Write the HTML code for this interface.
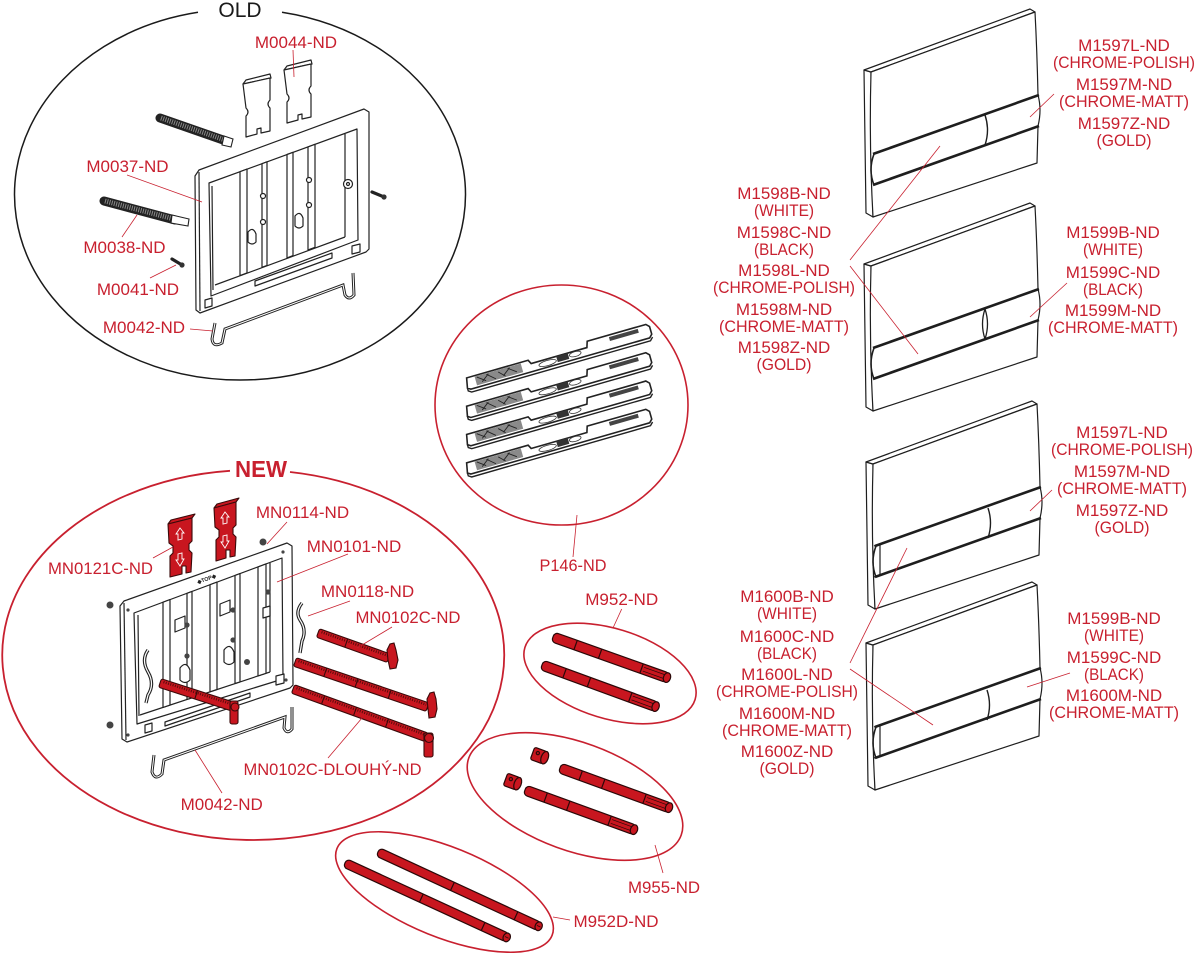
<!DOCTYPE html>
<html><head><meta charset="utf-8">
<style>
html,body{margin:0;padding:0;background:#fff;}
svg{display:block;}
text{font-family:"Liberation Sans",Arial,sans-serif;}
</style></head><body>
<svg width="1196" height="953" viewBox="0 0 1196 953" xmlns="http://www.w3.org/2000/svg">
<defs>
  <g id="pb" fill="#fff" stroke="#1e1e1e" stroke-width="1.2" stroke-linejoin="round">
    <path d="M864,70 L871,72 L873,217 L866,213 Z"/>
    <path d="M864,70 L1030,9 L1035,12 L871,72 Z"/>
    <path d="M871,72 L1035,12 Q1037,50 1038,95 Q1042,110 1038,126 L1037,163 L873,217 Q869,145 871,72 Z"/>
    <path d="M873,154 L1039,95 M873,185 L1039,126" stroke-width="2.6" fill="none"/>
    <path d="M874,154 Q868,170 874,185" fill="none" stroke-width="1.6"/>
  </g>
  <g id="card">
    <path d="M0,-2 L0,1 L3,3 L189,3 L192,0" fill="none" stroke="#222" stroke-width="1.4"/>
    <path d="M0,-2 L2,-12 L66,-12 L68,-8 L126,-8 L128,-14 L189,-14 L192,-11 L192,-3 L189,0 L3,0 Z" fill="#fff" stroke="#222" stroke-width="1.6"/>
    <rect x="10" y="-11" width="48" height="9" fill="#8a8a8a"/>
    <path d="M12,-10 L20,-4 M22,-10 L30,-3 M34,-9 L40,-3 M44,-10 L52,-4 M16,-4 L24,-10 M38,-4 L46,-10" stroke="#222" stroke-width="0.9"/>
    <ellipse cx="84" cy="-4" rx="9" ry="2.6" fill="#fff" stroke="#333" stroke-width="0.8"/>
    <rect x="94" y="-8" width="12" height="6" fill="#333"/>
    <ellipse cx="113" cy="-5" rx="6" ry="2.4" fill="#fff" stroke="#333" stroke-width="0.8"/>
    <rect x="150" y="-12" width="30" height="4" fill="#444"/>
  </g>
</defs>

<!-- ========== OLD ========== -->
<path d="M198,12.3 A225.5,185.5 0 1 0 282,12.3" fill="none" stroke="#1a1a1a" stroke-width="1.5"/>
<text x="240" y="17" font-size="21" text-anchor="middle" fill="#1a1a1a">OLD</text>

<g fill="#fff" stroke="#222" stroke-width="1.2" stroke-linejoin="round">
  <path d="M195,176 L199,170 L364,109 L369,112 L369,249 L366,252 L200,313 L196,310 Z"/>
  <path d="M199,172 L200,311" fill="none"/>
  <path d="M209,183 L357,129 L358,240 L211,296 Z"/>
  <path d="M215,285 L345,237 M345,134 L345,237 M213,290 L212,186" fill="none"/>
  <path d="M240,171.7 L247,169.1 L247,272.9 L240,275.6 Z"/>
  <path d="M262,163.7 L267,161.8 L267,265.4 L262,267.3 Z"/>
  <path d="M287,154.5 L293,152.3 L293,255.6 L287,257.9 Z"/>
  <path d="M308,146.9 L315,144.3 L315,247.3 L308,249.9 Z"/>
  <path d="M255,281 L332,253 L332,258 L255,286 Z"/>
  <circle cx="263" cy="196" r="2.5"/><circle cx="263" cy="222" r="2.5"/>
  <circle cx="309" cy="180" r="2.5"/><circle cx="309" cy="205" r="2.5"/>
  <path d="M248,232 q5,-6 8,2 l0,8 q-4,4 -8,0 Z"/><path d="M295,216 q5,-6 8,2 l0,8 q-4,4 -8,0 Z"/>
  <circle cx="348" cy="184" r="4.5"/><circle cx="348" cy="184" r="1.5"/>
  <path d="M205,300 L212,298 L212,306 L205,308 Z"/><path d="M352,246 L360,244 L360,252 L352,254 Z"/>
  <!-- sliders -->
  <path d="M243,84 L246,80 L270,74 L271,78 L266,79 Z"/>
  <path d="M243,84 L270,78 L270,100 Q266,104 270,108 L270,131 L261,133 L261,128 L257,129 L257,134 L246,137 L246,116 Q250,112 246,108 Z"/>
  <path d="M284,70 L287,66 L311,60 L312,64 L307,65 Z"/>
  <path d="M284,70 L311,64 L311,86 Q307,90 311,94 L311,117 L302,119 L302,114 L298,115 L298,120 L287,123 L287,102 Q291,98 287,94 Z"/>
</g>
<!-- threaded rods -->
<line x1="160" y1="118" x2="226" y2="141" stroke="#222" stroke-width="9" stroke-linecap="round"/>
<line x1="161" y1="118" x2="225" y2="140" stroke="#8a8a8a" stroke-width="5" stroke-dasharray="1 1.3"/>
<path d="M224,136 L233,139 L231,147 L222,145 Z" fill="#fff" stroke="#222" stroke-width="1.1"/>
<line x1="104" y1="201" x2="175" y2="220" stroke="#222" stroke-width="9" stroke-linecap="round"/>
<line x1="105" y1="201" x2="174" y2="219" stroke="#8a8a8a" stroke-width="5" stroke-dasharray="1 1.3"/>
<path d="M172,215 L189,219 L188,226 L171,223 Z" fill="#fff" stroke="#222" stroke-width="1.1"/>
<!-- screws -->
<line x1="372" y1="192" x2="384" y2="197" stroke="#222" stroke-width="3.2" stroke-linecap="round"/>
<circle cx="384" cy="197" r="2.6" fill="#333"/>
<line x1="172" y1="259" x2="182" y2="265" stroke="#222" stroke-width="3.2" stroke-linecap="round"/>
<circle cx="182" cy="265" r="2.6" fill="#333"/>
<!-- wire old -->
<path d="M215,323 L212,339 Q213,348 222,343 L225,329 L343,285 L345,295 Q349,301 354,295 L353,273" fill="none" stroke="#222" stroke-width="3"/>
<path d="M215,323 L212,339 Q213,348 222,343 L225,329 L343,285 L345,295 Q349,301 354,295 L353,273" fill="none" stroke="#fff" stroke-width="1"/>

<!-- ========== NEW ========== -->
<path d="M230,470.8 A251,185 0 1 0 290,472" fill="none" stroke="#c8202f" stroke-width="1.8"/>
<text x="261" y="477" font-size="23" font-weight="bold" text-anchor="middle" fill="#c8202f" textLength="52" lengthAdjust="spacingAndGlyphs">NEW</text>

<g fill="#fff" stroke="#222" stroke-width="1.2" stroke-linejoin="round">
  <path d="M120,606 L124,601 L287,543 L292,546 L293,685 L290,688 L127,742 L122,739 Z"/>
  <path d="M124,603 L126,740" fill="none"/>
  <path d="M134,613 L282,558 L283,679 L137,724 Z"/>
  <path d="M140,715 L270,672 M270,563 L270,672 M139,716 L138,615" fill="none"/>
  <path d="M163,602.2 L170,599.6 L170,705.1 L163,707.4 Z"/>
  <path d="M187,593.3 L192,591.4 L192,697.8 L187,699.4 Z"/>
  <path d="M210,584.7 L217,582.1 L217,689.5 L210,691.8 Z"/>
  <path d="M235,575.4 L240,573.6 L240,681.9 L235,683.5 Z"/>
  <path d="M258,566.9 L266,563.9 L266,673.3 L258,675.9 Z"/>
  <path d="M175,620 L185,616 L185,628 L175,632 Z"/><path d="M220,604 L230,600 L230,612 L220,616 Z"/>
  <path d="M180,668 q6,-8 10,2 l0,10 q-5,5 -10,0 Z"/><path d="M224,650 q6,-8 10,2 l0,10 q-5,5 -10,0 Z"/>
  <path d="M263,608 L270,606 L270,616 L263,618 Z"/>
  <path d="M145,725 L152,723 L152,731 L145,733 Z"/><path d="M276,676 L284,674 L284,683 L276,685 Z"/>
  <path d="M165,722 L250,693 L250,697 L165,726 Z"/>
</g>
<g fill="#444">
  <circle cx="187" cy="625" r="2.6"/><circle cx="187" cy="656" r="2.6"/>
  <circle cx="233" cy="610" r="2.6"/><circle cx="233" cy="640" r="2.6"/>
  <circle cx="268" cy="592" r="2.6"/><circle cx="247" cy="662" r="3"/>
  <circle cx="110" cy="605" r="3.5"/><circle cx="110" cy="725" r="3.5"/>
  <circle cx="263" cy="542" r="3.5"/><circle cx="128" cy="610" r="1.6"/><circle cx="283" cy="552" r="1.6"/>
  <circle cx="128" cy="735" r="1.6"/><circle cx="286" cy="680" r="1.6"/>
</g>
<text x="0" y="0" font-size="5.5" font-weight="bold" fill="#222" transform="translate(198,584) rotate(-20)">◆TOP◆</text>
<!-- S wires -->
<path d="M302,603 Q295,612 300,620 Q307,630 302,641 L300,653" fill="none" stroke="#222" stroke-width="3.4"/>
<path d="M302,603 Q295,612 300,620 Q307,630 302,641 L300,653" fill="none" stroke="#fff" stroke-width="1.2"/>
<path d="M148,650 Q141,660 148,672 Q155,684 148,695 L146,703" fill="none" stroke="#222" stroke-width="3.4"/>
<path d="M148,650 Q141,660 148,672 Q155,684 148,695 L146,703" fill="none" stroke="#fff" stroke-width="1.2"/>
<!-- new wire M0042 -->
<path d="M154,755 L152,772 Q155,781 162,774 L164,760 L285,717 L284,728 Q287,735 292,729 L292,707" fill="none" stroke="#222" stroke-width="3"/>
<path d="M154,755 L152,772 Q155,781 162,774 L164,760 L285,717 L284,728 Q287,735 292,729 L292,707" fill="none" stroke="#fff" stroke-width="1"/>

<!-- red sliders -->
<g fill="#c8161f" stroke="#3a0a0a" stroke-width="1.1" stroke-linejoin="round">
  <path d="M168,524 L171,520 L195,514 L192,518 Z"/>
  <path d="M168,524 L192,518 L192,541 L189,544 L189,550 L192,553 L191,572 L186,573 L186,566 L182,566 L182,574 L170,577 L170,556 L173,553 L173,546 L169,543 Z"/>
  <path d="M214,508 L217,504 L239,498 L236,502 Z"/>
  <path d="M214,508 L236,502 L236,525 L233,528 L233,534 L236,537 L235,556 L230,557 L230,550 L226,550 L226,558 L216,561 L216,540 L219,537 L219,530 L215,527 Z"/>
</g>
<g fill="none" stroke="#fff" stroke-width="0.9">
  <path d="M180,528 L176,534 L178,534 L178,540 L182,539 L182,533 L184,533 Z"/>
  <path d="M180,566 L176,560 L178,560 L178,554 L182,553 L182,559 L184,559 Z"/>
  <path d="M225,512 L221,518 L223,518 L223,524 L227,523 L227,517 L229,517 Z"/>
  <path d="M225,548 L221,542 L223,542 L223,536 L227,535 L227,541 L229,541 Z"/>
</g>

<!-- red toothed rods -->
<g fill="#c8161f" stroke="#3a0a0a" stroke-width="1.1">
  <g transform="translate(160,683) rotate(18)">
    <rect x="0" y="-4.5" width="78" height="9" rx="2"/>
    <line x1="3" y1="-2" x2="76" y2="-2" stroke="#5a0c0c" stroke-width="2.5" stroke-dasharray="1 1.4"/>
    <line x1="38" y1="-4.5" x2="38" y2="4.5"/>
  </g>
  <rect x="230" y="701" width="8" height="23" rx="2"/>
  <circle cx="235" cy="707" r="4"/>
  <g transform="translate(318,633) rotate(19.6)">
    <rect x="0" y="-4.5" width="75" height="9" rx="2"/>
    <line x1="3" y1="-2" x2="73" y2="-2" stroke="#5a0c0c" stroke-width="2.5" stroke-dasharray="1 1.4"/>
    <line x1="30" y1="-4.5" x2="30" y2="4.5"/>
  </g>
  <path d="M387,650 L390,644 L394,643 L396,650 L398,660 L396,668 L390,669 L388,660 Z"/>
  <g transform="translate(295,662) rotate(18.8)">
    <rect x="0" y="-4.5" width="140" height="9" rx="2"/>
    <line x1="3" y1="-2" x2="138" y2="-2" stroke="#5a0c0c" stroke-width="2.5" stroke-dasharray="1 1.4"/>
    <line x1="32" y1="-4.5" x2="32" y2="4.5"/><line x1="65" y1="-4.5" x2="65" y2="4.5"/><line x1="100" y1="-4.5" x2="100" y2="4.5"/>
  </g>
  <path d="M427,699 L430,693 L434,692 L436,699 L437,709 L435,717 L429,718 L428,709 Z"/>
  <g transform="translate(293,689) rotate(19.9)">
    <rect x="0" y="-4.5" width="142" height="9" rx="2"/>
    <line x1="3" y1="-2" x2="140" y2="-2" stroke="#5a0c0c" stroke-width="2.5" stroke-dasharray="1 1.4"/>
    <line x1="32" y1="-4.5" x2="32" y2="4.5"/><line x1="66" y1="-4.5" x2="66" y2="4.5"/><line x1="100" y1="-4.5" x2="100" y2="4.5"/>
  </g>
  <rect x="424" y="733" width="9" height="24" rx="2"/>
  <circle cx="429" cy="738" r="4.5"/>
</g>

<!-- ========== P146 ========== -->
<ellipse cx="561.5" cy="405" rx="126.5" ry="120" fill="none" stroke="#c8202f" stroke-width="1.6"/>
<use href="#card" transform="translate(468,390) rotate(-16)"/>
<use href="#card" transform="translate(468,418.3) rotate(-16)"/>
<use href="#card" transform="translate(468,446.6) rotate(-16)"/>
<use href="#card" transform="translate(468,474.9) rotate(-16)"/>

<!-- ========== M952 / M955 / M952D ========== -->
<ellipse cx="610" cy="673.5" rx="89" ry="45" transform="rotate(17 610 673.5)" fill="none" stroke="#c8202f" stroke-width="1.6"/>
<ellipse cx="575" cy="796.5" rx="113" ry="54" transform="rotate(20 575 796.5)" fill="none" stroke="#c8202f" stroke-width="1.6"/>
<ellipse cx="444.5" cy="892" rx="116" ry="45" transform="rotate(22 444.5 892)" fill="none" stroke="#c8202f" stroke-width="1.6"/>

<g fill="#c8161f" stroke="#2a0808" stroke-width="1.2">
  <g transform="translate(553,637) rotate(19.6)">
    <rect x="0" y="-5" width="122" height="10" rx="4"/>
    <line x1="24" y1="-5" x2="24" y2="5"/><line x1="50" y1="-5" x2="50" y2="5"/><line x1="94" y1="-5" x2="94" y2="5"/>
    <line x1="96" y1="-2" x2="120" y2="-2" stroke-width="0.7"/><line x1="96" y1="2" x2="120" y2="2" stroke-width="0.7"/>
    <ellipse cx="121" cy="0" rx="3.5" ry="5"/>
  </g>
  <g transform="translate(542,665) rotate(20.1)">
    <rect x="0" y="-5" width="122" height="10" rx="4"/>
    <line x1="24" y1="-5" x2="24" y2="5"/><line x1="50" y1="-5" x2="50" y2="5"/><line x1="94" y1="-5" x2="94" y2="5"/>
    <line x1="96" y1="-2" x2="120" y2="-2" stroke-width="0.7"/><line x1="96" y1="2" x2="120" y2="2" stroke-width="0.7"/>
    <ellipse cx="121" cy="0" rx="3.5" ry="5"/>
  </g>
  <g transform="translate(560,768) rotate(20)">
    <rect x="0" y="-5" width="117" height="10" rx="4"/>
    <line x1="22" y1="-5" x2="22" y2="5"/><line x1="46" y1="-5" x2="46" y2="5"/><line x1="90" y1="-5" x2="90" y2="5"/>
    <line x1="92" y1="-2" x2="115" y2="-2" stroke-width="0.7"/><line x1="92" y1="2" x2="115" y2="2" stroke-width="0.7"/>
    <ellipse cx="116" cy="0" rx="3.5" ry="5"/>
  </g>
  <g transform="translate(525,790) rotate(20)">
    <rect x="0" y="-5" width="117" height="10" rx="4"/>
    <line x1="22" y1="-5" x2="22" y2="5"/><line x1="46" y1="-5" x2="46" y2="5"/><line x1="90" y1="-5" x2="90" y2="5"/>
    <line x1="92" y1="-2" x2="115" y2="-2" stroke-width="0.7"/><line x1="92" y1="2" x2="115" y2="2" stroke-width="0.7"/>
    <ellipse cx="116" cy="0" rx="3.5" ry="5"/>
  </g>
  <g transform="translate(540,756) rotate(20)">
    <rect x="-8" y="-6.5" width="13" height="13" rx="2"/>
    <ellipse cx="5" cy="0" rx="3.5" ry="6.5"/>
    <circle cx="-3" cy="-2" r="1.6"/>
  </g>
  <g transform="translate(513,782) rotate(20)">
    <rect x="-8" y="-6.5" width="13" height="13" rx="2"/>
    <ellipse cx="5" cy="0" rx="3.5" ry="6.5"/>
    <circle cx="-3" cy="-2" r="1.6"/>
  </g>
  <g transform="translate(378,852) rotate(24.8)">
    <rect x="0" y="-4.5" width="178" height="9" rx="4"/>
    <line x1="82" y1="-4.5" x2="82" y2="4.5"/><line x1="152" y1="-4.5" x2="152" y2="4.5"/>
    <ellipse cx="177" cy="0" rx="3.5" ry="4.5"/><line x1="175" y1="0" x2="179" y2="0" stroke-width="0.8"/>
  </g>
  <g transform="translate(345,863) rotate(24.7)">
    <rect x="0" y="-4.5" width="179" height="9" rx="4"/>
    <line x1="84" y1="-4.5" x2="84" y2="4.5"/><line x1="152" y1="-4.5" x2="152" y2="4.5"/>
    <ellipse cx="178" cy="0" rx="3.5" ry="4.5"/><line x1="176" y1="0" x2="180" y2="0" stroke-width="0.8"/>
  </g>
</g>

<!-- ========== PLATES ========== -->
<use href="#pb"/>
<path d="M985,115 Q990,130 985,145" fill="none" stroke="#1e1e1e" stroke-width="1.4"/>
<g transform="translate(0,194)">
  <use href="#pb"/>
  <path d="M985,115 Q990,130 985,145 Q980,130 985,115" fill="none" stroke="#1e1e1e" stroke-width="1.3"/>
</g>
<g transform="translate(2,392)">
  <use href="#pb"/>
  <path d="M986,116 Q991,131 986,146" fill="none" stroke="#1e1e1e" stroke-width="1.4"/>
  <path d="M872,154 L878,152 L878,183 L872,185" fill="none" stroke="#1e1e1e" stroke-width="1.2"/>
</g>
<g transform="translate(2,573)">
  <use href="#pb"/>
  <path d="M985,117 Q990,132 985,147" fill="none" stroke="#1e1e1e" stroke-width="1.4"/>
  <path d="M872,154 L878,152 L878,183 L872,185" fill="none" stroke="#1e1e1e" stroke-width="1.2"/>
</g>

<!-- ========== LEADER LINES ========== -->
<g stroke="#c8202f" stroke-width="0.8" fill="none">
  <line x1="293" y1="50" x2="294" y2="77"/>
  <line x1="127" y1="175" x2="202" y2="202"/>
  <line x1="122" y1="237" x2="137" y2="215"/>
  <line x1="150" y1="278" x2="176" y2="265"/>
  <line x1="190" y1="329" x2="213" y2="331"/>
  <line x1="287" y1="522" x2="267" y2="544"/>
  <line x1="348" y1="554" x2="277" y2="582"/>
  <line x1="153" y1="558" x2="173" y2="547"/>
  <line x1="350" y1="601" x2="308" y2="616"/>
  <line x1="392" y1="627" x2="357" y2="648"/>
  <line x1="328" y1="758" x2="362" y2="718"/>
  <line x1="222" y1="793" x2="195" y2="750"/>
  <line x1="577" y1="515" x2="573" y2="557"/>
  <line x1="621.7" y1="609" x2="613" y2="628"/>
  <line x1="655" y1="845" x2="663" y2="873"/>
  <line x1="553" y1="917" x2="570" y2="920"/>
  <line x1="1054" y1="94" x2="1030" y2="117"/>
  <line x1="850" y1="260" x2="940" y2="146"/>
  <line x1="850" y1="266" x2="918" y2="354"/>
  <line x1="1067" y1="283" x2="1030" y2="317"/>
  <line x1="1052" y1="490" x2="1030" y2="511"/>
  <line x1="850" y1="663" x2="907" y2="548"/>
  <line x1="850" y1="669" x2="933" y2="725"/>
  <line x1="1070" y1="673" x2="1027" y2="687"/>
</g>

<!-- ========== LABELS ========== -->
<g fill="#c8202f" font-size="17" text-anchor="middle">
  <text x="296" y="48">M0044-ND</text>
  <text x="127.5" y="172">M0037-ND</text>
  <text x="124.5" y="253">M0038-ND</text>
  <text x="138" y="295">M0041-ND</text>
  <text x="144" y="333">M0042-ND</text>

  <text x="302.5" y="518">MN0114-ND</text>
  <text x="354" y="552">MN0101-ND</text>
  <text x="100.5" y="574" textLength="105" lengthAdjust="spacingAndGlyphs">MN0121C-ND</text>
  <text x="367.5" y="597">MN0118-ND</text>
  <text x="408" y="623" textLength="105" lengthAdjust="spacingAndGlyphs">MN0102C-ND</text>
  <text x="332.5" y="775" textLength="178" lengthAdjust="spacingAndGlyphs">MN0102C-DLOUHÝ-ND</text>
  <text x="221.7" y="810">M0042-ND</text>

  <text x="573" y="571" textLength="67" lengthAdjust="spacingAndGlyphs">P146-ND</text>
  <text x="621.7" y="605" textLength="73" lengthAdjust="spacingAndGlyphs">M952-ND</text>
  <text x="664" y="893" textLength="72" lengthAdjust="spacingAndGlyphs">M955-ND</text>
  <text x="616" y="927" textLength="85" lengthAdjust="spacingAndGlyphs">M952D-ND</text>

  <text x="1124" y="51">M1597L-ND</text>
  <text x="1124" y="68" textLength="142" lengthAdjust="spacingAndGlyphs">(CHROME-POLISH)</text>
  <text x="1124" y="90">M1597M-ND</text>
  <text x="1124" y="107" textLength="130" lengthAdjust="spacingAndGlyphs">(CHROME-MATT)</text>
  <text x="1124" y="129">M1597Z-ND</text>
  <text x="1124" y="146" textLength="55" lengthAdjust="spacingAndGlyphs">(GOLD)</text>

  <text x="784" y="199">M1598B-ND</text>
  <text x="784" y="216" textLength="60" lengthAdjust="spacingAndGlyphs">(WHITE)</text>
  <text x="784" y="238">M1598C-ND</text>
  <text x="784" y="255" textLength="60" lengthAdjust="spacingAndGlyphs">(BLACK)</text>
  <text x="784" y="276">M1598L-ND</text>
  <text x="784" y="293" textLength="142" lengthAdjust="spacingAndGlyphs">(CHROME-POLISH)</text>
  <text x="784" y="315">M1598M-ND</text>
  <text x="784" y="332" textLength="130" lengthAdjust="spacingAndGlyphs">(CHROME-MATT)</text>
  <text x="784" y="353">M1598Z-ND</text>
  <text x="784" y="370" textLength="55" lengthAdjust="spacingAndGlyphs">(GOLD)</text>

  <text x="1113" y="238">M1599B-ND</text>
  <text x="1113" y="255" textLength="60" lengthAdjust="spacingAndGlyphs">(WHITE)</text>
  <text x="1113" y="278">M1599C-ND</text>
  <text x="1113" y="295" textLength="60" lengthAdjust="spacingAndGlyphs">(BLACK)</text>
  <text x="1113" y="316">M1599M-ND</text>
  <text x="1113" y="333" textLength="130" lengthAdjust="spacingAndGlyphs">(CHROME-MATT)</text>

  <text x="1122" y="438">M1597L-ND</text>
  <text x="1122" y="455" textLength="142" lengthAdjust="spacingAndGlyphs">(CHROME-POLISH)</text>
  <text x="1122" y="477">M1597M-ND</text>
  <text x="1122" y="494" textLength="130" lengthAdjust="spacingAndGlyphs">(CHROME-MATT)</text>
  <text x="1122" y="516">M1597Z-ND</text>
  <text x="1122" y="533" textLength="55" lengthAdjust="spacingAndGlyphs">(GOLD)</text>

  <text x="1114" y="624">M1599B-ND</text>
  <text x="1114" y="641" textLength="60" lengthAdjust="spacingAndGlyphs">(WHITE)</text>
  <text x="1114" y="663">M1599C-ND</text>
  <text x="1114" y="680" textLength="60" lengthAdjust="spacingAndGlyphs">(BLACK)</text>
  <text x="1114" y="701">M1600M-ND</text>
  <text x="1114" y="718" textLength="130" lengthAdjust="spacingAndGlyphs">(CHROME-MATT)</text>

  <text x="787" y="602">M1600B-ND</text>
  <text x="787" y="619" textLength="60" lengthAdjust="spacingAndGlyphs">(WHITE)</text>
  <text x="787" y="642">M1600C-ND</text>
  <text x="787" y="659" textLength="60" lengthAdjust="spacingAndGlyphs">(BLACK)</text>
  <text x="787" y="680">M1600L-ND</text>
  <text x="787" y="697" textLength="142" lengthAdjust="spacingAndGlyphs">(CHROME-POLISH)</text>
  <text x="787" y="719">M1600M-ND</text>
  <text x="787" y="736" textLength="130" lengthAdjust="spacingAndGlyphs">(CHROME-MATT)</text>
  <text x="787" y="757">M1600Z-ND</text>
  <text x="787" y="774" textLength="55" lengthAdjust="spacingAndGlyphs">(GOLD)</text>
</g>
</svg>
</body></html>
